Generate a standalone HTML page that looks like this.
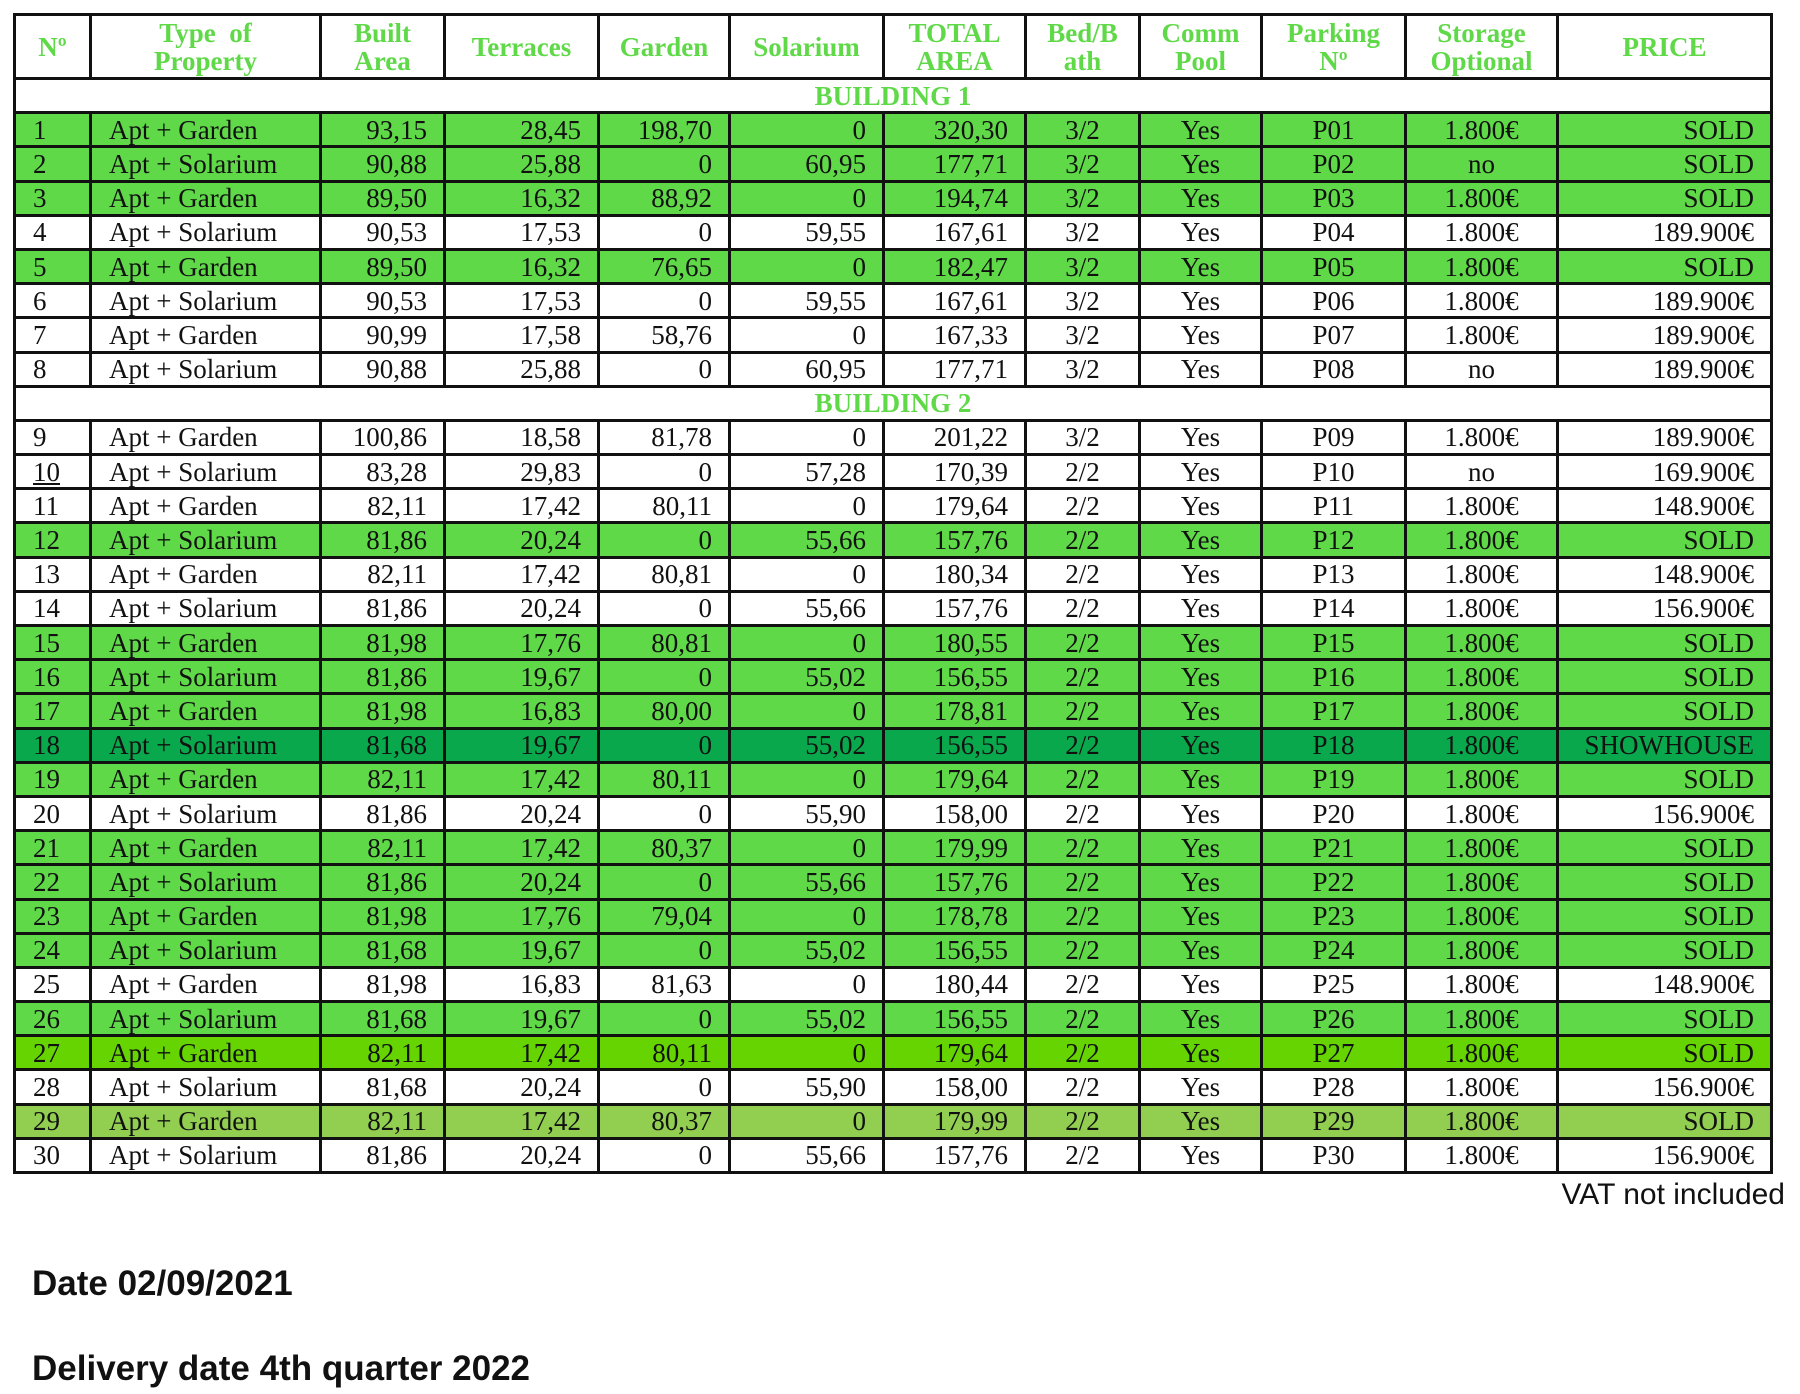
<!DOCTYPE html>
<html><head><meta charset="utf-8"><style>
html,body{margin:0;padding:0;background:#fff;width:1800px;height:1394px;overflow:hidden;}
table{position:absolute;left:13px;top:13px;border-collapse:collapse;table-layout:fixed;font-family:"Liberation Serif",serif;font-size:27px;color:#111;}
td,th{border:3px solid #111;padding:0;white-space:nowrap;overflow:hidden;height:31px;line-height:26px;box-sizing:border-box;}
th{height:64px;color:#5fd948;font-weight:bold;line-height:28px;font-size:27px;background:#fff;}
tr{height:34.2px;}
tr.h{height:64px;}
td{text-align:right;padding-right:16px;}
td.n{text-align:left;padding-left:17px;padding-right:0}
td.t{text-align:left;padding-left:17px;padding-right:0}
td.c{text-align:center;padding:0}
tr.b td{text-align:center;color:#5fd948;font-weight:bold;background:#fff;padding:0}
tr.g td{background:#5fd948}
tr.d td{background:#0aa84c}
tr.l td{background:#66d400}
tr.o td{background:#92cf50}
.f{position:absolute;font-family:"Liberation Sans",sans-serif;color:#111;}
</style></head><body>
<table>
<colgroup><col style="width:76px"><col style="width:230px"><col style="width:124px"><col style="width:154px"><col style="width:131px"><col style="width:154px"><col style="width:142px"><col style="width:114px"><col style="width:122px"><col style="width:144px"><col style="width:152px"><col style="width:214px"></colgroup>
<tr class="h"><th>Nº</th><th>Type&nbsp; of<br>Property</th><th>Built<br>Area</th><th>Terraces</th><th>Garden</th><th>Solarium</th><th>TOTAL<br>AREA</th><th>Bed/B<br>ath</th><th>Comm<br>Pool</th><th>Parking<br>Nº</th><th>Storage<br>Optional</th><th>PRICE</th></tr>
<tr class="b"><td colspan="12">BUILDING 1</td></tr>
<tr class="g"><td class="n">1</td><td class="t">Apt + Garden</td><td>93,15</td><td>28,45</td><td>198,70</td><td>0</td><td>320,30</td><td class="c">3/2</td><td class="c">Yes</td><td class="c">P01</td><td class="c">1.800€</td><td>SOLD</td></tr>
<tr class="g"><td class="n">2</td><td class="t">Apt + Solarium</td><td>90,88</td><td>25,88</td><td>0</td><td>60,95</td><td>177,71</td><td class="c">3/2</td><td class="c">Yes</td><td class="c">P02</td><td class="c">no</td><td>SOLD</td></tr>
<tr class="g"><td class="n">3</td><td class="t">Apt + Garden</td><td>89,50</td><td>16,32</td><td>88,92</td><td>0</td><td>194,74</td><td class="c">3/2</td><td class="c">Yes</td><td class="c">P03</td><td class="c">1.800€</td><td>SOLD</td></tr>
<tr><td class="n">4</td><td class="t">Apt + Solarium</td><td>90,53</td><td>17,53</td><td>0</td><td>59,55</td><td>167,61</td><td class="c">3/2</td><td class="c">Yes</td><td class="c">P04</td><td class="c">1.800€</td><td>189.900€</td></tr>
<tr class="g"><td class="n">5</td><td class="t">Apt + Garden</td><td>89,50</td><td>16,32</td><td>76,65</td><td>0</td><td>182,47</td><td class="c">3/2</td><td class="c">Yes</td><td class="c">P05</td><td class="c">1.800€</td><td>SOLD</td></tr>
<tr><td class="n">6</td><td class="t">Apt + Solarium</td><td>90,53</td><td>17,53</td><td>0</td><td>59,55</td><td>167,61</td><td class="c">3/2</td><td class="c">Yes</td><td class="c">P06</td><td class="c">1.800€</td><td>189.900€</td></tr>
<tr><td class="n">7</td><td class="t">Apt + Garden</td><td>90,99</td><td>17,58</td><td>58,76</td><td>0</td><td>167,33</td><td class="c">3/2</td><td class="c">Yes</td><td class="c">P07</td><td class="c">1.800€</td><td>189.900€</td></tr>
<tr><td class="n">8</td><td class="t">Apt + Solarium</td><td>90,88</td><td>25,88</td><td>0</td><td>60,95</td><td>177,71</td><td class="c">3/2</td><td class="c">Yes</td><td class="c">P08</td><td class="c">no</td><td>189.900€</td></tr>
<tr class="b"><td colspan="12">BUILDING 2</td></tr>
<tr><td class="n">9</td><td class="t">Apt + Garden</td><td>100,86</td><td>18,58</td><td>81,78</td><td>0</td><td>201,22</td><td class="c">3/2</td><td class="c">Yes</td><td class="c">P09</td><td class="c">1.800€</td><td>189.900€</td></tr>
<tr><td class="n"><u>10</u></td><td class="t">Apt + Solarium</td><td>83,28</td><td>29,83</td><td>0</td><td>57,28</td><td>170,39</td><td class="c">2/2</td><td class="c">Yes</td><td class="c">P10</td><td class="c">no</td><td>169.900€</td></tr>
<tr><td class="n">11</td><td class="t">Apt + Garden</td><td>82,11</td><td>17,42</td><td>80,11</td><td>0</td><td>179,64</td><td class="c">2/2</td><td class="c">Yes</td><td class="c">P11</td><td class="c">1.800€</td><td>148.900€</td></tr>
<tr class="g"><td class="n">12</td><td class="t">Apt + Solarium</td><td>81,86</td><td>20,24</td><td>0</td><td>55,66</td><td>157,76</td><td class="c">2/2</td><td class="c">Yes</td><td class="c">P12</td><td class="c">1.800€</td><td>SOLD</td></tr>
<tr><td class="n">13</td><td class="t">Apt + Garden</td><td>82,11</td><td>17,42</td><td>80,81</td><td>0</td><td>180,34</td><td class="c">2/2</td><td class="c">Yes</td><td class="c">P13</td><td class="c">1.800€</td><td>148.900€</td></tr>
<tr><td class="n">14</td><td class="t">Apt + Solarium</td><td>81,86</td><td>20,24</td><td>0</td><td>55,66</td><td>157,76</td><td class="c">2/2</td><td class="c">Yes</td><td class="c">P14</td><td class="c">1.800€</td><td>156.900€</td></tr>
<tr class="g"><td class="n">15</td><td class="t">Apt + Garden</td><td>81,98</td><td>17,76</td><td>80,81</td><td>0</td><td>180,55</td><td class="c">2/2</td><td class="c">Yes</td><td class="c">P15</td><td class="c">1.800€</td><td>SOLD</td></tr>
<tr class="g"><td class="n">16</td><td class="t">Apt + Solarium</td><td>81,86</td><td>19,67</td><td>0</td><td>55,02</td><td>156,55</td><td class="c">2/2</td><td class="c">Yes</td><td class="c">P16</td><td class="c">1.800€</td><td>SOLD</td></tr>
<tr class="g"><td class="n">17</td><td class="t">Apt + Garden</td><td>81,98</td><td>16,83</td><td>80,00</td><td>0</td><td>178,81</td><td class="c">2/2</td><td class="c">Yes</td><td class="c">P17</td><td class="c">1.800€</td><td>SOLD</td></tr>
<tr class="d"><td class="n">18</td><td class="t">Apt + Solarium</td><td>81,68</td><td>19,67</td><td>0</td><td>55,02</td><td>156,55</td><td class="c">2/2</td><td class="c">Yes</td><td class="c">P18</td><td class="c">1.800€</td><td>SHOWHOUSE</td></tr>
<tr class="g"><td class="n">19</td><td class="t">Apt + Garden</td><td>82,11</td><td>17,42</td><td>80,11</td><td>0</td><td>179,64</td><td class="c">2/2</td><td class="c">Yes</td><td class="c">P19</td><td class="c">1.800€</td><td>SOLD</td></tr>
<tr><td class="n">20</td><td class="t">Apt + Solarium</td><td>81,86</td><td>20,24</td><td>0</td><td>55,90</td><td>158,00</td><td class="c">2/2</td><td class="c">Yes</td><td class="c">P20</td><td class="c">1.800€</td><td>156.900€</td></tr>
<tr class="g"><td class="n">21</td><td class="t">Apt + Garden</td><td>82,11</td><td>17,42</td><td>80,37</td><td>0</td><td>179,99</td><td class="c">2/2</td><td class="c">Yes</td><td class="c">P21</td><td class="c">1.800€</td><td>SOLD</td></tr>
<tr class="g"><td class="n">22</td><td class="t">Apt + Solarium</td><td>81,86</td><td>20,24</td><td>0</td><td>55,66</td><td>157,76</td><td class="c">2/2</td><td class="c">Yes</td><td class="c">P22</td><td class="c">1.800€</td><td>SOLD</td></tr>
<tr class="g"><td class="n">23</td><td class="t">Apt + Garden</td><td>81,98</td><td>17,76</td><td>79,04</td><td>0</td><td>178,78</td><td class="c">2/2</td><td class="c">Yes</td><td class="c">P23</td><td class="c">1.800€</td><td>SOLD</td></tr>
<tr class="g"><td class="n">24</td><td class="t">Apt + Solarium</td><td>81,68</td><td>19,67</td><td>0</td><td>55,02</td><td>156,55</td><td class="c">2/2</td><td class="c">Yes</td><td class="c">P24</td><td class="c">1.800€</td><td>SOLD</td></tr>
<tr><td class="n">25</td><td class="t">Apt + Garden</td><td>81,98</td><td>16,83</td><td>81,63</td><td>0</td><td>180,44</td><td class="c">2/2</td><td class="c">Yes</td><td class="c">P25</td><td class="c">1.800€</td><td>148.900€</td></tr>
<tr class="g"><td class="n">26</td><td class="t">Apt + Solarium</td><td>81,68</td><td>19,67</td><td>0</td><td>55,02</td><td>156,55</td><td class="c">2/2</td><td class="c">Yes</td><td class="c">P26</td><td class="c">1.800€</td><td>SOLD</td></tr>
<tr class="l"><td class="n">27</td><td class="t">Apt + Garden</td><td>82,11</td><td>17,42</td><td>80,11</td><td>0</td><td>179,64</td><td class="c">2/2</td><td class="c">Yes</td><td class="c">P27</td><td class="c">1.800€</td><td>SOLD</td></tr>
<tr><td class="n">28</td><td class="t">Apt + Solarium</td><td>81,68</td><td>20,24</td><td>0</td><td>55,90</td><td>158,00</td><td class="c">2/2</td><td class="c">Yes</td><td class="c">P28</td><td class="c">1.800€</td><td>156.900€</td></tr>
<tr class="o"><td class="n">29</td><td class="t">Apt + Garden</td><td>82,11</td><td>17,42</td><td>80,37</td><td>0</td><td>179,99</td><td class="c">2/2</td><td class="c">Yes</td><td class="c">P29</td><td class="c">1.800€</td><td>SOLD</td></tr>
<tr><td class="n">30</td><td class="t">Apt + Solarium</td><td>81,86</td><td>20,24</td><td>0</td><td>55,66</td><td>157,76</td><td class="c">2/2</td><td class="c">Yes</td><td class="c">P30</td><td class="c">1.800€</td><td>156.900€</td></tr>
</table>
<div class="f" style="right:15px;top:1178px;font-size:30px;">VAT not included</div>
<div class="f" style="left:32px;top:1264px;font-size:35px;font-weight:bold;">Date 02/09/2021</div>
<div class="f" style="left:32px;top:1349px;font-size:35px;font-weight:bold;">Delivery date 4th quarter 2022</div>
</body></html>
